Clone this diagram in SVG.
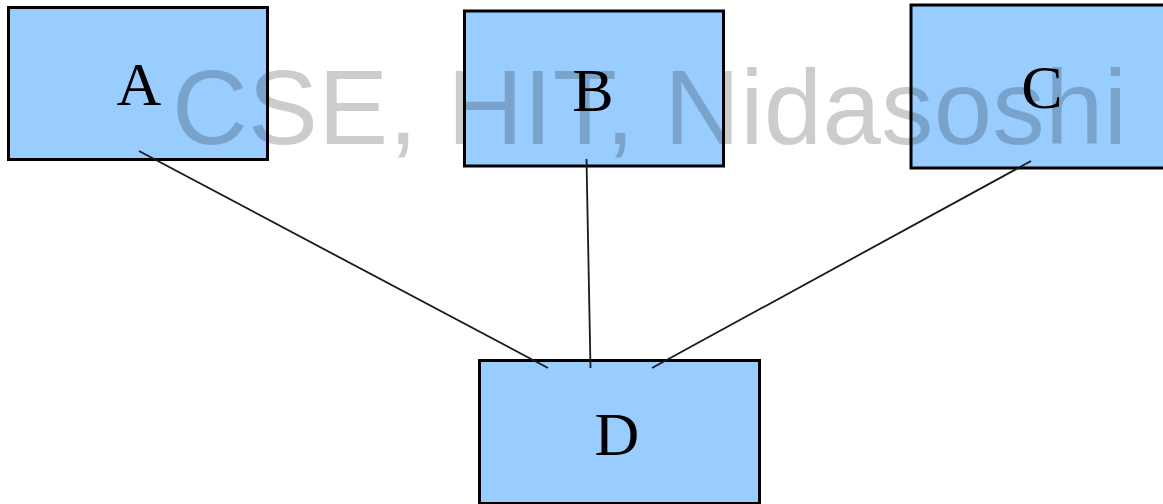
<svg xmlns="http://www.w3.org/2000/svg" width="1163" height="504" viewBox="0 0 1163 504">
  <style>
    .box { fill: #99CCFF; stroke: #000; stroke-width: 3; }
    .label { font-family: "Liberation Serif", "Times New Roman", serif; font-size: 62px; fill: #000; text-anchor: middle; }
    .edge { stroke: #1a1a1a; stroke-width: 1.8; fill: none; }
    .mark { font-family: "Liberation Sans", Arial, sans-serif; font-size: 105px; fill: #000; fill-opacity: 0.2; }
  </style>
  <rect width="1163" height="504" fill="#fff"/>

  <g id="node-A">
    <rect class="box" x="8.5" y="7.5" width="259" height="152"/>
    <text class="label" x="139" y="105">A</text>
  </g>
  <g id="node-B">
    <rect class="box" x="464.5" y="11" width="259" height="155"/>
    <text class="label" x="593" y="111">B</text>
  </g>
  <g id="node-C">
    <rect class="box" x="911" y="5" width="262" height="163"/>
    <text class="label" x="1042" y="108">C</text>
  </g>
  <g id="node-D">
    <rect class="box" x="479.5" y="360.5" width="280" height="143"/>
    <text class="label" x="617" y="455">D</text>
  </g>

  <!-- edges run slightly into the boxes at both ends -->
  <g id="connectors">
    <line class="edge" x1="139" y1="151" x2="548" y2="368"/>
    <line class="edge" x1="586.5" y1="159" x2="590.5" y2="368"/>
    <line class="edge" x1="1031" y1="161" x2="652" y2="368"/>
  </g>

  <!-- semi-transparent overlay text -->
  <text class="mark" x="172" y="144" textLength="955" lengthAdjust="spacing">CSE, HIT, Nidasoshi</text>
</svg>
